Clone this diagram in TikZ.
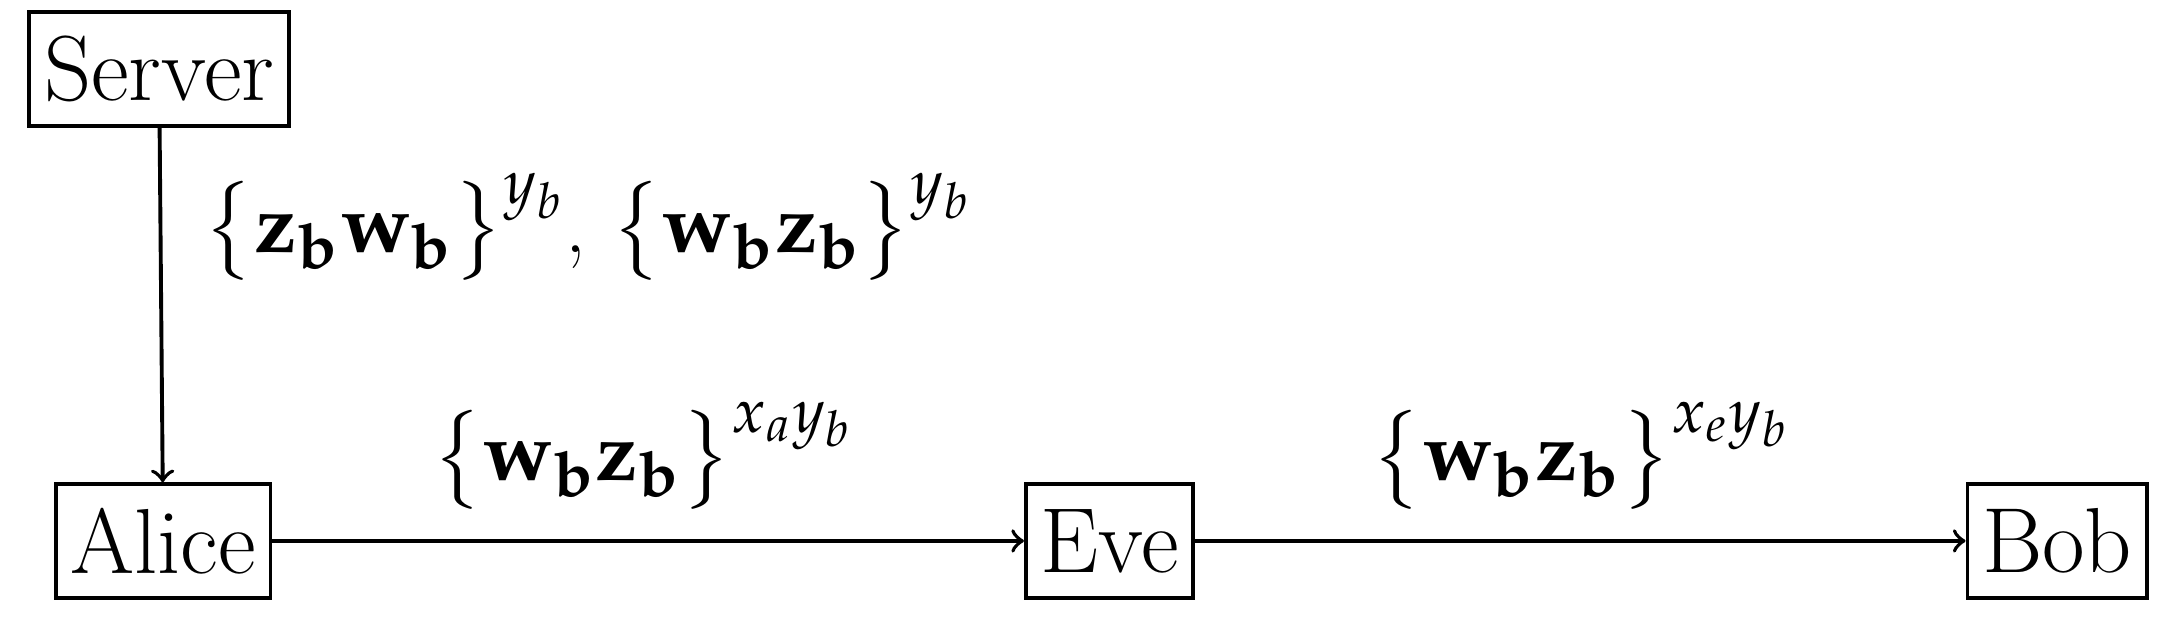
\documentclass[tikz,border=0pt]{standalone}
\usepackage{mathpazo}
\renewcommand{\rmdefault}{ppl}
\begin{document}
\begin{tikzpicture}[x=0.01cm,y=-0.01cm,
  party/.style={draw,thick,minimum height=0.82cm,inner xsep=3pt,font=\fontfamily{ppl}\fontsize{19}{22}\selectfont},
  lbl/.style={font=\fontfamily{ppl}\fontsize{17}{20}\selectfont},
  arr/.style={->,thick}]
\useasboundingbox (0,0) rectangle (1565,447);
\node[party] (S) at (115,50) {Server};
\node[party] (A) at (118,391) {Alice};
\node[party] (E) at (802,391) {Eve};
\node[party] (B) at (1487,391) {Bob};
\draw[arr] (S) -- (A);
\draw[arr] (A) -- (E);
\draw[arr] (E) -- (B);
\node[lbl,anchor=west] (l1) at (135,165) {$\big\{\mathbf{z_b}\mathbf{w_b}\big\}^{y_b}$, $\big\{\mathbf{w_b}\mathbf{z_b}\big\}^{y_b}$};
\node[lbl] (l2) at (465,330) {$\big\{\mathbf{w_b}\mathbf{z_b}\big\}^{x_a y_b}$};
\node[lbl] (l3) at (1143,330) {$\big\{\mathbf{w_b}\mathbf{z_b}\big\}^{x_e y_b}$};
\end{tikzpicture}
\end{document}
